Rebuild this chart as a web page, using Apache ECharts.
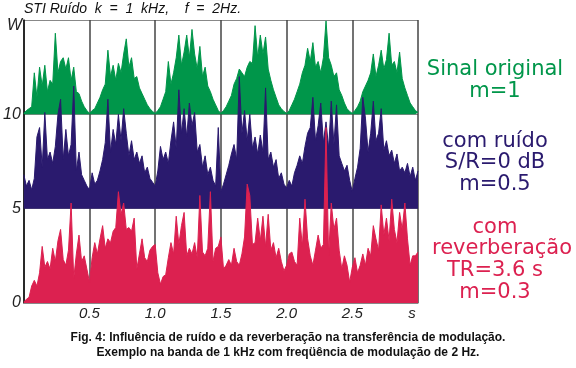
<!DOCTYPE html>
<html>
<head>
<meta charset="utf-8">
<script src="https://cdn.jsdelivr.net/npm/echarts@6/dist/echarts.min.js"></script>
<style>
  html, body { margin: 0; padding: 0; background: #fff; }
  #chart { width: 576px; height: 368px; }
</style>
</head>
<body>
<div id="chart"></div>
<script>
// 采样间隔 0.02 s, 0 ~ 3 s
const step = 0.02

// 原始信号 (m=1), 基线 10
const sinalOriginal = [
  10.05, 10.2, 10.3, 10.4, 12.2, 10.9, 12.5, 11.5, 12.6, 11.2, 11.8, 11.6, 14.3, 12.2, 12.8, 13.0, 12.4, 13.0, 11.8, 12.5, 11.2, 11.1, 10.7, 10.4, 10.2,
  10.05, 10.2, 10.3, 10.6, 10.9, 11.3, 11.6, 13.4, 12.0, 12.6, 11.8, 12.7, 12.2, 13.2, 14.0, 12.5, 13.0, 11.9, 12.0, 11.4, 11.1, 10.8, 10.5, 10.3, 10.15,
  10.05, 10.2, 10.4, 10.8, 11.2, 12.8, 11.6, 12.2, 13.0, 14.2, 12.6, 13.3, 14.2, 13.0, 14.5, 13.2, 12.4, 13.6, 12.0, 12.5, 11.5, 11.2, 10.8, 10.5, 10.2,
  10.05, 10.2, 10.4, 10.7, 11.0, 11.6, 11.9, 12.4, 12.2, 12.0, 12.5, 12.8, 12.7, 14.7, 13.0, 14.2, 13.2, 14.1, 12.4, 11.8, 11.3, 10.9, 10.5, 10.3, 10.15,
  10.05, 10.2, 10.5, 10.8, 11.2, 11.6, 12.2, 12.6, 13.5, 12.8, 13.8, 12.5, 12.8, 12.2, 13.0, 14.95, 13.0, 12.6, 12.0, 12.2, 11.3, 11.0, 10.6, 10.3, 10.15,
  10.05, 10.2, 10.4, 10.7, 11.2, 11.5, 11.8, 12.2, 13.2, 12.0, 12.6, 13.4, 12.4, 12.9, 14.3, 12.6, 12.8, 12.2, 13.3, 11.9, 11.4, 11.0, 10.6, 10.4, 10.2, 10.1
]

// 加噪声 (S/R=0 dB), 基线 5
const comRuido = [
  6.8, 6.2, 6.5, 6.0, 6.6, 8.8, 9.3, 7.2, 10.1, 7.6, 8.0, 7.4, 8.3, 10.0, 10.8, 7.6, 9.2, 7.8, 8.4, 11.5, 7.0, 8.0, 6.8, 6.5, 6.2,
  6.0, 6.9, 6.3, 6.5, 7.0, 7.6, 8.5, 10.8, 8.0, 9.2, 8.4, 10.0, 8.6, 10.3, 9.0, 7.8, 8.6, 7.6, 8.0, 7.4, 7.8, 6.9, 7.2, 6.6, 6.4,
  6.2, 7.0, 8.3, 7.6, 8.0, 7.4, 8.6, 9.6, 8.2, 11.3, 9.0, 10.3, 8.8, 10.6, 9.4, 10.1, 8.0, 8.4, 7.2, 7.8, 6.8, 7.2, 6.5, 6.2, 9.3,
  5.9, 6.3, 6.8, 7.3, 7.9, 8.4, 7.6, 12.0, 9.0, 10.2, 8.6, 10.0, 8.2, 8.8, 7.9, 8.9, 8.0, 11.4, 7.6, 8.0, 7.2, 7.6, 6.6, 6.9, 6.3,
  6.1, 6.5, 6.2, 6.9, 7.3, 7.8, 7.4, 8.3, 9.0, 9.3, 10.9, 8.6, 9.4, 10.6, 8.5, 9.6, 8.2, 10.7, 8.4, 10.5, 7.8, 7.4, 7.0, 7.3, 6.5,
  5.9, 6.6, 7.2, 8.2, 10.9, 9.8, 8.0, 9.0, 10.7, 8.6, 9.0, 10.3, 8.1, 8.6, 7.8, 8.1, 7.4, 7.9, 7.0, 7.2, 6.9, 7.4, 6.7, 7.2, 6.5, 7.0
]

// 混响 (TR=3.6 s), 基线 0
const comReverberacao = [
  0.05, 0.2, 0.3, 0.9, 1.2, 0.9, 1.6, 3.0, 1.9, 2.2, 1.8, 2.9, 2.2, 3.3, 3.9, 2.3, 2.0, 2.8, 5.3, 1.3, 2.6, 3.6, 2.2, 2.5, 1.8,
  1.1, 2.4, 3.2, 2.6, 3.4, 4.1, 2.9, 3.4, 3.2, 3.8, 4.0, 5.9, 4.7, 5.3, 3.9, 4.0, 3.8, 4.5, 1.8, 2.6, 3.4, 2.4, 2.2, 2.8, 3.0,
  3.1, 1.6, 1.0, 1.4, 1.5, 2.4, 3.2, 2.6, 4.6, 3.1, 4.1, 4.8, 2.5, 2.9, 2.6, 3.2, 2.4, 5.7, 2.7, 2.5, 2.9, 5.9, 2.2, 2.9, 3.0,
  3.5, 1.8, 2.0, 2.3, 2.0, 2.9, 2.2, 2.0, 2.6, 3.5, 6.3, 5.7, 3.1, 3.2, 4.5, 3.3, 4.6, 3.0, 4.7, 2.8, 3.2, 2.4, 2.9, 2.2, 1.7,
  2.0, 2.6, 2.7, 2.2, 2.0, 4.5, 3.0, 5.5, 3.4, 2.5, 2.0, 2.8, 3.6, 2.9, 3.1, 9.3, 2.5, 5.3, 3.9, 4.5, 2.8, 1.8, 2.5, 2.0, 1.1,
  1.9, 2.4, 1.6, 2.0, 2.6, 2.0, 2.9, 2.5, 4.1, 3.4, 2.8, 5.2, 3.6, 4.5, 3.3, 5.5, 3.9, 3.2, 4.8, 3.9, 5.3, 3.4, 2.0, 2.5, 2.5, 2.7
]

const tempos = sinalOriginal.map((_, i) => +(i * step).toFixed(2))

const VERDE = '#00964a'
const AZUL = '#2a1a6e'
const VERMELHO = '#dc2150'

function serie(nome, valores, base, cor) {
  return {
    name: nome,
    type: 'line',
    showSymbol: false,
    animation: false,
    data: tempos.map((t, i) => [t, valores[i]]),
    lineStyle: { color: cor, width: 1 },
    areaStyle: { color: cor, opacity: 1, origin: base }
  }
}

function texto(txt, x, y, cor) {
  return {
    type: 'text',
    x: x,
    y: y,
    style: {
      text: txt,
      fill: cor,
      font: '21px "DejaVu Sans"',
      align: 'center',
      verticalAlign: 'middle'
    }
  }
}

const chart = echarts.init(document.getElementById('chart'), null, { renderer: 'canvas' })

chart.setOption({
  animation: false,
  backgroundColor: '#fff',
  grid: { left: 23, right: 158, top: 20, bottom: 65 },
  xAxis: {
    type: 'value',
    min: 0,
    max: 3,
    interval: 0.5,
    axisLine: { lineStyle: { color: '#888', width: 1 } },
    axisTick: { show: false },
    splitLine: { show: true, lineStyle: { color: '#444', width: 1.5 } },
    axisLabel: {
      margin: 3,
      color: '#222',
      fontSize: 15,
      fontStyle: 'italic',
      fontFamily: 'Liberation Sans',
      formatter(v) {
        if (v === 0) return ''
        if (v === 3) return '{s|s}'
        return v.toFixed(1)
      },
      rich: { s: { padding: [0, 12, 0, 0], fontSize: 15, fontStyle: 'italic', color: '#222', fontFamily: 'Liberation Sans' } }
    }
  },
  yAxis: {
    type: 'value',
    min: 0,
    max: 15,
    interval: 5,
    axisLine: { show: true, lineStyle: { color: '#111', width: 1.5 } },
    axisTick: { show: false },
    splitLine: { show: true, lineStyle: { color: '#888', width: 1 } },
    axisLabel: {
      margin: 3,
      color: '#222',
      fontSize: 16,
      fontStyle: 'italic',
      fontFamily: 'Liberation Sans',
      formatter(v) {
        return v === 15 ? '' : String(v)
      }
    }
  },
  series: [
    serie('Sinal original', sinalOriginal, 10, VERDE),
    serie('com ruído', comRuido, 5, AZUL),
    serie('com reverberação', comReverberacao, 0, VERMELHO)
  ],
  graphic: [
    {
      type: 'text', x: 24, y: 2,
      style: { text: 'STI Ruído  k  =  1  kHz,    f  =  2Hz.', fill: '#111', font: 'italic 14px "Liberation Sans"' }
    },
    {
      type: 'text', x: 22, y: 26,
      style: { text: 'W', fill: '#222', font: 'italic 16px "Liberation Sans"', align: 'right', verticalAlign: 'middle' }
    },
    texto('Sinal original', 495, 70, VERDE),
    texto('m=1', 495, 92, VERDE),
    texto('com ruído', 495, 142, AZUL),
    texto('S/R=0 dB', 495, 163, AZUL),
    texto('m=0.5', 495, 185, AZUL),
    texto('com', 495, 228, VERMELHO),
    texto('reverberação', 502, 249, VERMELHO),
    texto('TR=3.6 s', 495, 271, VERMELHO),
    texto('m=0.3', 495, 293, VERMELHO),
    {
      type: 'text', x: 288, y: 338,
      style: { text: 'Fig. 4: Influência de ruído e da reverberação na transferência de modulação.', fill: '#111', font: 'bold 12px "Liberation Sans"', align: 'center', verticalAlign: 'middle' }
    },
    {
      type: 'text', x: 288, y: 353,
      style: { text: 'Exemplo na banda de 1 kHz com freqüência de modulação de 2 Hz.', fill: '#111', font: 'bold 12px "Liberation Sans"', align: 'center', verticalAlign: 'middle' }
    }
  ]
})
</script>
</body>
</html>
